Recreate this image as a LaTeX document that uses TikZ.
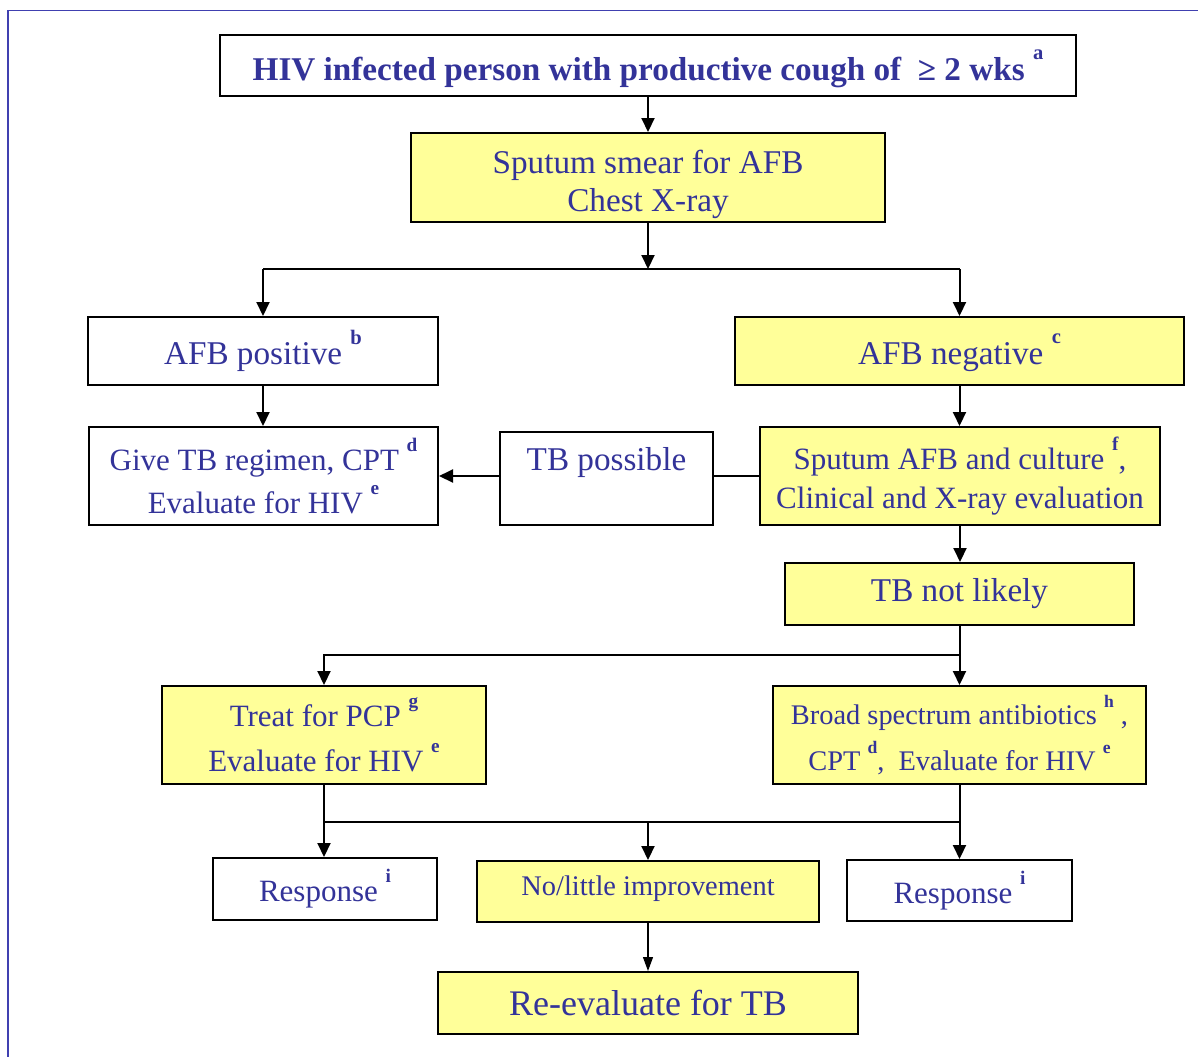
\documentclass[tikz,border=0pt]{standalone}
\usepackage{fontspec}
\setmainfont{Liberation Serif}
\usetikzlibrary{arrows.meta}

\definecolor{inkblue}{RGB}{51,51,153}
\definecolor{frameblue}{RGB}{64,64,176}
\definecolor{noteyellow}{RGB}{255,255,153}

\newcommand{\supnote}[1]{\raisebox{0.62em}{\scalebox{0.62}{\bfseries #1}}}

\begin{document}
\begin{tikzpicture}
[x=0.5pt,y=-0.5pt,
 boxPlain/.style={shape=rectangle,draw=black,line width=1pt,fill=white,
   text=inkblue,align=center,inner sep=0pt},
 boxYellow/.style={boxPlain,fill=noteyellow}]
\useasboundingbox (0,0) rectangle (1198,1056);
%% frame (cut at right and bottom)
\draw[frameblue,line width=0.8pt] (1210,10.5) -- (8,10.5) -- (8,1070);
%% nodes or vertices
\node (hiv) at (648,65.5) [boxPlain,minimum width=428pt,minimum height=30.5pt,
  font=\fontsize{16.6}{19}\selectfont\bfseries,text height=15pt,text depth=-4pt]
  {HIV infected person with productive cough of\ \ ≥ 2 wks \supnote{a}};
\node (smear) at (648,177.5) [boxYellow,minimum width=237pt,minimum height=44.5pt,
  font=\fontsize{16.6}{19}\selectfont]
  {\rule{0pt}{18.5pt}Sputum smear for AFB\\ Chest X-ray};
\node (afbpos) at (263,351) [boxPlain,minimum width=175pt,minimum height=34pt,
  font=\fontsize{16.6}{19}\selectfont]
  {AFB positive \supnote{b}};
\node (afbneg) at (959.5,351) [boxYellow,minimum width=224.5pt,minimum height=34pt,
  font=\fontsize{16.6}{19}\selectfont,text height=13pt,text depth=0pt]
  {AFB negative \supnote{c}};
\node (regimen) at (263.5,476) [boxPlain,minimum width=174.5pt,minimum height=49pt,
  font=\fontsize{15.5}{21.5}\selectfont]
  {Give TB regimen, CPT \supnote{d}\\ Evaluate for HIV \supnote{e}};
\node (possible) at (606.5,478.5) [boxPlain,minimum width=106.5pt,minimum height=46.5pt,
  font=\fontsize{16.6}{19}\selectfont,text height=12pt,text depth=20.5pt]
  {TB possible};
\node (culture) at (960,476) [boxYellow,minimum width=200pt,minimum height=49pt,
  font=\fontsize{15.5}{19.5}\selectfont]
  {Sputum AFB and culture \supnote{f},\\ Clinical and X-ray evaluation};
\node (notlikely) at (959.5,594) [boxYellow,minimum width=174.5pt,minimum height=31pt,
  font=\fontsize{16.6}{19}\selectfont]
  {TB not likely};
\node (pcp) at (324,735) [boxYellow,minimum width=162pt,minimum height=49pt,
  font=\fontsize{15.5}{22.5}\selectfont]
  {Treat for PCP \supnote{g}\\ Evaluate for HIV \supnote{e}};
\node (broad) at (959.5,735) [boxYellow,minimum width=186.5pt,minimum height=49pt,
  font=\fontsize{14.2}{23}\selectfont]
  {Broad spectrum antibiotics \supnote{h} ,\\ CPT \supnote{d},\ \ Evaluate for HIV \supnote{e}};
\node (respL) at (325,889) [boxPlain,minimum width=112pt,minimum height=31pt,
  font=\fontsize{15.5}{19}\selectfont]
  {Response \supnote{i}};
\node (noimprove) at (648,891.5) [boxYellow,minimum width=171pt,minimum height=30.5pt,
  font=\fontsize{14.2}{19}\selectfont,text height=10pt,text depth=6pt]
  {No/little improvement};
\node (respR) at (959.5,890.5) [boxPlain,minimum width=112.5pt,minimum height=30.5pt,
  font=\fontsize{15.5}{19}\selectfont]
  {Response \supnote{i}};
\node (reeval) at (648,1003) [boxYellow,minimum width=210pt,minimum height=31pt,
  font=\fontsize{18}{21}\selectfont]
  {Re-evaluate for TB};
%% split points
\coordinate (split1) at (648,269);
\coordinate (split2) at (960,655);
\coordinate (split3) at (325,822);
%% edges or lines
\tikzstyle{EdgeStyle}=[-{Triangle[length=7pt,width=6.5pt]},line width=1pt]
\tikzstyle{ThinEdge}=[-{Triangle[length=7pt,width=5pt]},line width=0.6pt]
\foreach \startnode/\endnode in {hiv/smear, afbpos/regimen, afbneg/culture,
  culture/notlikely, notlikely/broad, pcp/respL, broad/respR}
{
  \draw[EdgeStyle] (\startnode.south) -- (\startnode.south |- \endnode.north);
}
\draw[ThinEdge] (noimprove.south) -- (reeval.north);
\draw[EdgeStyle] (smear.south) -- (split1);
\draw[line width=1pt] (split1 -| afbpos) -- (split1 -| afbneg);
\draw[EdgeStyle] (split1 -| afbpos) -- (afbpos.north);
\draw[EdgeStyle] (split1 -| afbneg) -- (afbneg.north);
\draw[line width=1pt] (culture.west) -- (culture.west -| possible.east);
\draw[EdgeStyle] (possible.west |- regimen.east) -- (regimen.east);
\draw[EdgeStyle] (split2) -| (pcp.north);
\draw[line width=1pt] (split3) -- (split3 -| broad);
\draw[EdgeStyle] (split3 -| noimprove) -- (noimprove.north);
\end{tikzpicture}
\end{document}
